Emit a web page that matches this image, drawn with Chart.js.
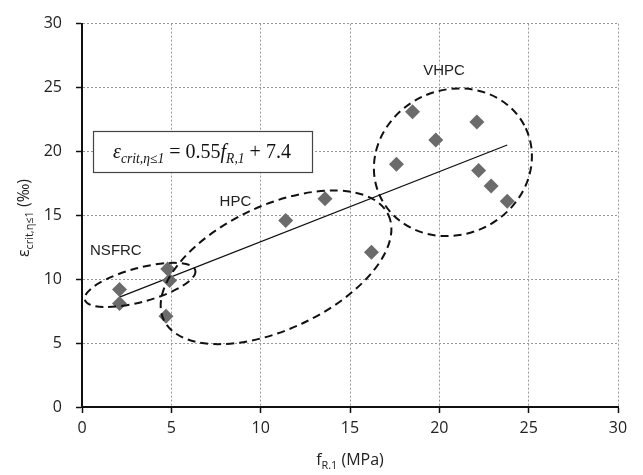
<!DOCTYPE html>
<html>
<head>
<meta charset="utf-8">
<script src="https://cdn.jsdelivr.net/npm/chart.js@4"></script>
<style>
  body { margin: 0; background: #fff; }
  #wrap { width: 643px; height: 475px; }
</style>
</head>
<body>
<div id="wrap"><canvas id="chart" width="643" height="475"></canvas></div>
<script>
// measured points (fR,1 in MPa, eps in permille)
const fR1 = [2.1, 2.1, 4.8, 4.9, 4.7, 11.4, 13.6, 16.2, 17.6, 18.5, 19.8, 22.1, 22.2, 22.9, 23.8];
const epsCrit = [9.2, 8.1, 10.8, 9.9, 7.1, 14.6, 16.3, 12.1, 19.0, 23.1, 20.9, 22.3, 18.5, 17.3, 16.1];

// fitted line end points
const fitX = [2.1, 23.8];
const fitY = [8.6, 20.5];

const xTicks = [0, 5, 10, 15, 20, 25, 30];
const yTicks = [0, 5, 10, 15, 20, 25, 30];

// group ellipses: centre (data), half axes (x units), screen angle (deg)
const groupNames = ["NSFRC", "HPC", "VHPC"];
const groupCx = [3.25, 10.86, 20.76];
const groupCy = [9.55, 10.93, 19.15];
const groupA = [3.2, 6.94, 4.5];
const groupB = [0.95, 3.47, 4.05];
const groupRot = [-15, -25, -25];
const labelX = [0.45, 7.7, 19.1];
const labelY = [11.9, 15.7, 26.0];

const scatter = fR1.map((x, i) => ({ x: x, y: epsCrit[i] }));
const fit = fitX.map((x, i) => ({ x: x, y: fitY[i] }));

// draw text with subscripts: parts = [[text, sub?, italic?], ...]
function richText(ctx, parts, x, y, size, family, measureOnly) {
  let cx = x;
  parts.forEach(p => {
    const s = p[1] ? size * 0.68 : size;
    ctx.font = (p[2] ? "italic " : "") + s + "px " + family;
    if (!measureOnly) ctx.fillText(p[0], cx, p[1] ? y + size * 0.25 : y);
    cx += ctx.measureText(p[0]).width;
  });
  return cx - x;
}

const extras = {
  id: "extras",
  afterDatasetsDraw(chart) {
    const ctx = chart.ctx;
    const xs = chart.scales.x, ys = chart.scales.y;
    const pxUnit = xs.getPixelForValue(1) - xs.getPixelForValue(0);

    // dashed ellipses
    ctx.save();
    ctx.strokeStyle = "#111";
    ctx.lineWidth = 2;
    ctx.setLineDash([8, 5]);
    groupNames.forEach((g, i) => {
      ctx.beginPath();
      ctx.ellipse(xs.getPixelForValue(groupCx[i]), ys.getPixelForValue(groupCy[i]),
        groupA[i] * pxUnit, groupB[i] * pxUnit, groupRot[i] * Math.PI / 180, 0, Math.PI * 2);
      ctx.stroke();
    });
    ctx.restore();

    // group labels
    ctx.save();
    ctx.fillStyle = "#222";
    ctx.font = "15px 'Liberation Sans', Arial, sans-serif";
    ctx.textBaseline = "alphabetic";
    groupNames.forEach((g, i) => {
      ctx.fillText(g, xs.getPixelForValue(labelX[i]), ys.getPixelForValue(labelY[i]));
    });
    ctx.restore();

    // equation box
    ctx.save();
    ctx.fillStyle = "#fff";
    ctx.strokeStyle = "#444";
    ctx.lineWidth = 1.2;
    ctx.fillRect(93, 131, 219, 41);
    ctx.strokeRect(93.5, 131.5, 219, 41);
    ctx.fillStyle = "#111";
    const fam = "'Liberation Serif', 'DejaVu Serif', serif";
    const eq = [["ε", false, true], ["crit,η≤1", true, true], [" = 0.55", false, false],
                ["f", false, true], ["R,1", true, true], [" + 7.4", false, false]];
    const w = richText(ctx, eq, 0, 0, 20, fam, true);
    richText(ctx, eq, 202 - w / 2, 158, 20, fam, false);
    ctx.restore();

    // axis titles
    ctx.save();
    ctx.fillStyle = "#222";
    const sans = "'Open Sans', sans-serif";
    const xt = [["f", false, false], ["R.1", true, false], [" (MPa)", false, false]];
    const xw = richText(ctx, xt, 0, 0, 16, sans, true);
    richText(ctx, xt, 350 - xw / 2, 465, 16, sans, false);
    const yt = [["ε", false, false], ["crit,η≤1", true, false], [" (‰)", false, false]];
    const yw = richText(ctx, yt, 0, 0, 16, sans, true);
    ctx.translate(29, 218);
    ctx.rotate(-Math.PI / 2);
    richText(ctx, yt, -yw / 2, 0, 16, sans, false);
    ctx.restore();
  }
};

const tickFont = { family: "'Open Sans', sans-serif", size: 16 };

new Chart(document.getElementById("chart"), {
  type: "scatter",
  data: {
    datasets: [
      {
        data: scatter,
        pointStyle: "rectRot",
        pointRadius: 7.5,
        pointHoverRadius: 7.5,
        backgroundColor: "#6b6b6b",
        borderColor: "#6b6b6b",
        borderWidth: 0
      },
      {
        type: "line",
        data: fit,
        borderColor: "#111",
        borderWidth: 1.3,
        pointRadius: 0,
        fill: false
      }
    ]
  },
  options: {
    responsive: false,
    animation: false,
    layout: { padding: { top: 20, right: 25, left: 0, bottom: 0 } },
    plugins: { legend: { display: false }, tooltip: { enabled: false } },
    scales: {
      x: {
        type: "linear",
        min: 0, max: 30,
        afterFit: s => { s.height = 68; },
        afterBuildTicks: s => { s.ticks = xTicks.map(v => ({ value: v })); },
        ticks: { font: tickFont, color: "#222", padding: 6 },
        border: { color: "#111", width: 2, dash: [2, 2] },
        grid: { color: "#999", lineWidth: 1, tickLength: 6,
                tickColor: "#111", tickWidth: 1.5, tickBorderDash: [] }
      },
      y: {
        min: 0, max: 30,
        afterFit: s => { s.width = 82; },
        afterBuildTicks: s => { s.ticks = yTicks.map(v => ({ value: v })); },
        ticks: { font: tickFont, color: "#222", padding: 14 },
        border: { color: "#111", width: 2, dash: [2, 2] },
        grid: { color: "#999", lineWidth: 1, tickLength: 6,
                tickColor: "#111", tickWidth: 1.5, tickBorderDash: [] }
      }
    }
  },
  plugins: [extras]
});
</script>
</body>
</html>
